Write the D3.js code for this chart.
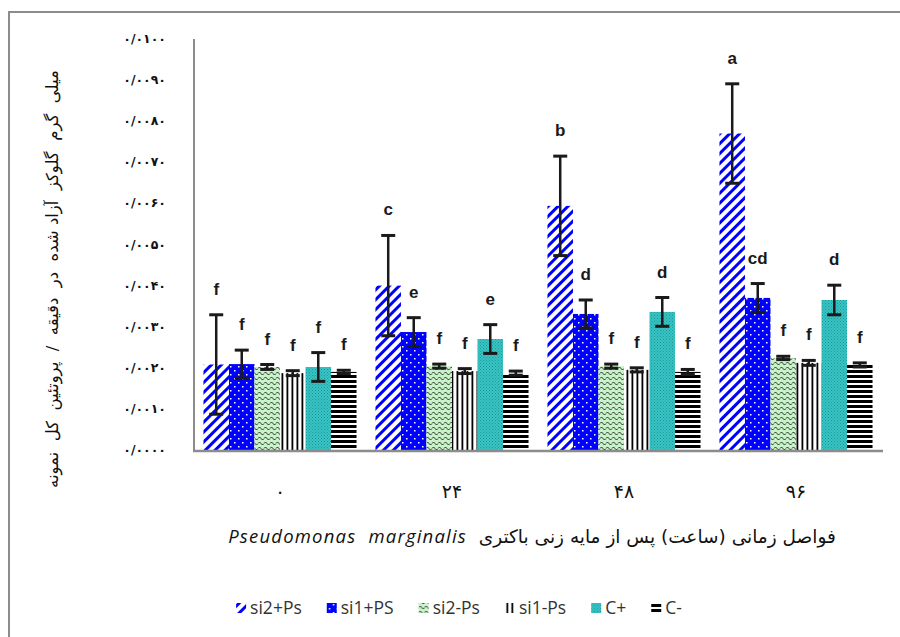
<!DOCTYPE html>
<html>
<head>
<meta charset="utf-8">
<script src="https://cdn.jsdelivr.net/npm/d3@7"></script>
<style>
  body { margin: 0; background: #fff; }
  svg { display: block; }
  text { white-space: pre; }
</style>
</head>
<body>
<script>
// hours after inoculation
const groups = ["0", "24", "48", "96"];
const series = ["si2+Ps", "si1+PS", "si2-Ps", "si1-Ps", "C+", "C-"];

// mean values, one array per series (mg glucose / min / total protein)
const si2Ps = [0.00208, 0.00400, 0.00594, 0.00770];
const si1PS = [0.00209, 0.00287, 0.00331, 0.00370];
const si2mPs = [0.00202, 0.00204, 0.00204, 0.00224];
const si1mPs = [0.00187, 0.00192, 0.00195, 0.00212];
const cPlus = [0.00202, 0.00270, 0.00336, 0.00365];
const cMinus = [0.00190, 0.00187, 0.00190, 0.00207];

// error bar half widths
const errSi2Ps = [0.00121, 0.00122, 0.00121, 0.00121];
const errSi1PS = [0.00034, 0.00035, 0.00034, 0.00035];
const errSi2mPs = [0.00006, 0.00005, 0.00005, 0.00004];
const errSi1mPs = [0.00006, 0.00006, 0.00005, 0.00006];
const errCPlus = [0.00035, 0.00035, 0.00035, 0.00036];
const errCMinus = [0.00004, 0.00005, 0.00006, 0.00005];

// significance letters
const letters = [
  ["f", "c", "b", "a"],
  ["f", "e", "d", "cd"],
  ["f", "f", "f", "f"],
  ["f", "f", "f", "f"],
  ["f", "e", "d", "d"],
  ["f", "f", "f", "f"]
];

const yTicks = [0, 0.001, 0.002, 0.003, 0.004, 0.005, 0.006, 0.007, 0.008, 0.009, 0.01];

const yTitle = "میلی  گرم  گلوکز  آزاد شده  در  دقیقه  /  پروتئین  کل  نمونه";
const xTitleFa = "فواصل زمانی (ساعت) پس از مایه زنی باکتری  ";
const xTitleLatin = "Pseudomonas  marginalis";

const means = [si2Ps, si1PS, si2mPs, si1mPs, cPlus, cMinus];
const errs = [errSi2Ps, errSi1PS, errSi2mPs, errSi1mPs, errCPlus, errCMinus];

const width = 900, height = 637;
const faDigits = "۰۱۲۳۴۵۶۷۸۹";
const toFa = s => s.replace(/[0-9]/g, c => faDigits[+c]).replace(".", "/");

const svg = d3.select("body").append("svg")
  .attr("width", width)
  .attr("height", height);

// fill patterns
const defs = svg.append("defs");
function pattern(id, w, h, bg) {
  const p = defs.append("pattern")
    .attr("id", id)
    .attr("patternUnits", "userSpaceOnUse")
    .attr("width", w)
    .attr("height", h);
  p.append("rect").attr("width", w).attr("height", h).attr("fill", bg);
  return p;
}

let p = pattern("p0", 7, 7, "#fff").attr("patternTransform", "rotate(45)");
p.append("rect").attr("x", 0).attr("width", 3).attr("height", 7).attr("fill", "#0000ff");

p = pattern("p1", 8, 8, "#0000ff");
p.append("rect").attr("x", 2).attr("y", 2).attr("width", 1.5).attr("height", 1.5).attr("fill", "#fff");
p.append("rect").attr("x", 6).attr("y", 6).attr("width", 1.5).attr("height", 1.5).attr("fill", "#fff");

p = pattern("p2", 6, 5, "#c8f3c8");
p.append("path").attr("d", "M0,3.5 Q1.5,0.5 3,3.5 T6,3.5")
  .attr("fill", "none").attr("stroke", "#111").attr("stroke-width", 0.9);

p = pattern("p3", 5, 5, "#fff");
p.append("rect").attr("x", 1.5).attr("width", 1.8).attr("height", 5).attr("fill", "#000");

p = pattern("p4", 3, 3, "#38c4c4");
p.append("rect").attr("width", 1).attr("height", 1).attr("fill", "#1f9898");
p.append("rect").attr("x", 1.5).attr("y", 1.5).attr("width", 1).attr("height", 1).attr("fill", "#1f9898");

p = pattern("p5", 5, 5, "#fff");
p.append("rect").attr("y", 0).attr("width", 5).attr("height", 3).attr("fill", "#000");

const fills = series.map((s, i) => `url(#p${i})`);

// outer frame
svg.append("rect")
  .attr("x", 9).attr("y", 12)
  .attr("width", 1000).attr("height", 800)
  .attr("fill", "none").attr("stroke", "#8c8c8c").attr("stroke-width", 2);

const x0 = d3.scaleBand().domain(groups).range([194, 882])
  .paddingInner(0.11).paddingOuter(0.055);
const x1 = d3.scaleBand().domain(series).range([0, x0.bandwidth()]);
const y = d3.scaleLinear().domain([0, 0.01]).range([450, 39]);

// y tick labels
svg.append("g")
  .selectAll("text")
  .data(yTicks)
  .join("text")
  .attr("x", 166)
  .attr("y", d => y(d) + 4)
  .attr("text-anchor", "end")
  .attr("font-family", "DejaVu Sans")
  .attr("font-size", 12.5)
  .attr("font-weight", "bold")
  .attr("letter-spacing", 2.2)
  .attr("fill", "#111")
  .text(d => toFa(d3.format(".4f")(d)));

// bars
const rows = [];
series.forEach((s, i) => groups.forEach((g, j) => {
  rows.push({ s, i, g, v: means[i][j], e: errs[i][j], l: letters[i][j] });
}));

svg.append("g")
  .selectAll("rect")
  .data(rows)
  .join("rect")
  .attr("x", d => x0(d.g) + x1(d.s))
  .attr("y", d => y(d.v))
  .attr("width", x1.bandwidth())
  .attr("height", d => y(0) - y(d.v))
  .attr("fill", d => fills[d.i]);

// error bars
const eb = svg.append("g").attr("stroke", "#1a1a1a");
eb.selectAll("line.v")
  .data(rows)
  .join("line")
  .attr("class", "v")
  .attr("x1", d => x0(d.g) + x1(d.s) + x1.bandwidth() / 2)
  .attr("x2", d => x0(d.g) + x1(d.s) + x1.bandwidth() / 2)
  .attr("y1", d => y(d.v - d.e))
  .attr("y2", d => y(d.v + d.e))
  .attr("stroke-width", 2.5);
[1, -1].forEach(sign => {
  eb.append("g")
    .selectAll("line")
    .data(rows)
    .join("line")
    .attr("x1", d => x0(d.g) + x1(d.s) + x1.bandwidth() / 2 - 7)
    .attr("x2", d => x0(d.g) + x1(d.s) + x1.bandwidth() / 2 + 7)
    .attr("y1", d => y(d.v + sign * d.e))
    .attr("y2", d => y(d.v + sign * d.e))
    .attr("stroke-width", 3);
});

// letters
svg.append("g")
  .selectAll("text")
  .data(rows)
  .join("text")
  .attr("x", d => x0(d.g) + x1(d.s) + x1.bandwidth() / 2)
  .attr("y", d => y(d.v + d.e) - 20)
  .attr("text-anchor", "middle")
  .attr("font-family", "Liberation Sans, Arial, sans-serif")
  .attr("font-size", 17)
  .attr("font-weight", "bold")
  .attr("fill", "#1a1a1a")
  .text(d => d.l);

// axes lines
svg.append("line")
  .attr("x1", 194).attr("x2", 194).attr("y1", 39).attr("y2", 451)
  .attr("stroke", "#8c8c8c").attr("stroke-width", 2);
svg.append("line")
  .attr("x1", 193).attr("x2", 883).attr("y1", 451).attr("y2", 451)
  .attr("stroke", "#8c8c8c").attr("stroke-width", 2.5);

// category labels
svg.append("g")
  .selectAll("text")
  .data(groups)
  .join("text")
  .attr("x", d => x0(d) + x0.bandwidth() / 2)
  .attr("y", 498)
  .attr("text-anchor", "middle")
  .attr("font-family", "DejaVu Sans")
  .attr("font-size", 19)
  .attr("fill", "#111")
  .text(d => toFa(d));

// x title
const xt = svg.append("text")
  .attr("x", 532).attr("y", 543)
  .attr("text-anchor", "middle")
  .attr("direction", "rtl")
  .attr("font-family", "DejaVu Sans")
  .attr("font-size", 18.5)
  .attr("fill", "#111");
xt.append("tspan").text(xTitleFa);
xt.append("tspan")
  .attr("font-family", "Open Sans")
  .attr("font-style", "italic")
  .attr("font-size", 18.5)
  .attr("letter-spacing", 1.2)
  .text(xTitleLatin);

// y title
svg.append("text")
  .attr("transform", "translate(58,279) rotate(-90)")
  .attr("text-anchor", "middle")
  .attr("direction", "rtl")
  .attr("font-family", "DejaVu Sans")
  .attr("font-size", 16.5)
  .attr("fill", "#111")
  .text(yTitle);

// legend
const legend = svg.append("g");
let lx = 0;
series.forEach((s, i) => {
  const item = legend.append("g").attr("transform", `translate(${lx},0)`);
  item.append("rect")
    .attr("x", 0).attr("y", -11)
    .attr("width", 10).attr("height", 10)
    .attr("fill", fills[i]);
  const t = item.append("text")
    .attr("x", 14).attr("y", 0)
    .attr("font-family", "Open Sans")
    .attr("font-size", 17.5)
    .attr("fill", "#333")
    .text(s);
  lx += 14 + t.node().getComputedTextLength() + 25;
});
legend.attr("transform", `translate(${459 - (lx - 25) / 2},614)`);
</script>
</body>
</html>
